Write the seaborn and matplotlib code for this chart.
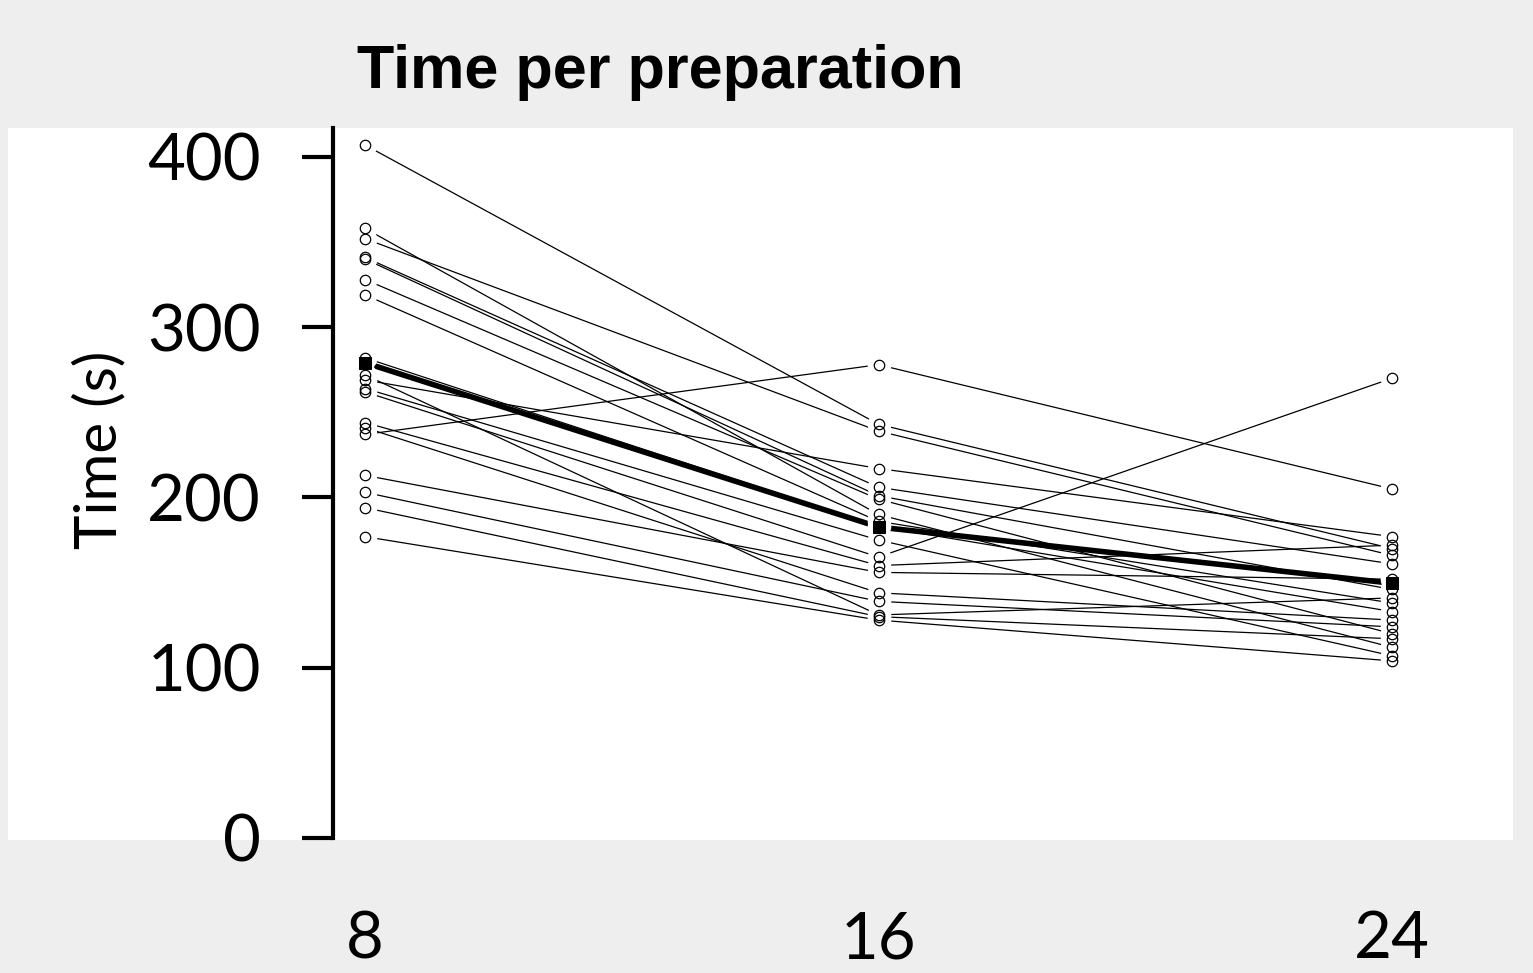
import pandas as pd
import matplotlib
matplotlib.use("Agg")
import matplotlib.pyplot as plt
import seaborn as sns
from matplotlib.patches import Rectangle

# session sizes (x axis) and time per preparation for each subject
sessions = [8, 16, 24]
time_8 = [407, 358, 352, 341, 340, 328, 319, 282, 272, 269, 264, 262,
          244, 241, 237, 213, 203, 194, 177]
time_16 = [243, 190, 239, 206, 201, 199, 186, 183, 131, 217, 175, 165,
           160, 144, 278, 156, 139, 130, 128]
time_24 = [170, 112, 166, 161, 146, 120, 138, 133, 141, 177, 107, 270,
           172, 128, 205, 152, 124, 117, 104]

title = "Time per preparation"
y_label = "Time (s)"
y_ticks = [0, 100, 200, 300, 400]

# long format table for seaborn
rows = []
for i in range(len(time_8)):
    for s, t in zip(sessions, [time_8[i], time_16[i], time_24[i]]):
        rows.append({"subject": i, "session": s, "time": t})
df = pd.DataFrame(rows)

sns.set_theme(style="white")
plt.rcParams['font.family'] = ['Lato', 'DejaVu Sans']

W, H = 1533, 973
fig = plt.figure(figsize=(W / 100, H / 100), dpi=100, facecolor='#EEEEEE')

# white panel behind the plot
fig.patches.append(Rectangle((8 / W, 1 - 840 / H), (1513 - 8) / W, (840 - 128) / H,
                             transform=fig.transFigure, facecolor='white',
                             edgecolor='none', zorder=-1))

ax = fig.add_axes([333 / W, 1 - 838 / H, (1424 - 333) / W, (838 - 128) / H])
ax.patch.set_alpha(0)

# individual subjects
sns.lineplot(data=df, x='session', y='time', units='subject', estimator=None,
             color='black', lw=0.9, ax=ax, legend=False, zorder=2)

# mean line
sns.lineplot(data=df, x='session', y='time', estimator='mean', errorbar=None,
             color='black', lw=4, ax=ax, legend=False, zorder=3)

# white halo so lines stop short of the points
sns.lineplot(data=df, x='session', y='time', units='subject', estimator=None,
             ls='', marker='o', ms=17, mfc='white', mec='none', ax=ax,
             legend=False, zorder=4)
sns.lineplot(data=df, x='session', y='time', estimator='mean', errorbar=None,
             ls='', marker='s', ms=9, color='black', mec='black', ax=ax,
             legend=False, zorder=5)
sns.lineplot(data=df, x='session', y='time', units='subject', estimator=None,
             ls='', marker='o', ms=7.5, mfc='none', mec='black', mew=0.9,
             ax=ax, legend=False, zorder=6)

ax.set_xlim(7.5, 24.5)
ax.set_ylim(0, 417)
ax.set_xticks(sessions)
ax.set_yticks(y_ticks)
ax.set_xlabel('')
ax.set_ylabel('')

for side in ['top', 'right', 'bottom']:
    ax.spines[side].set_visible(False)
ax.spines['left'].set_linewidth(3)
ax.spines['left'].set_color('black')
ax.spines['left'].set_capstyle('projecting')

ax.tick_params(axis='y', length=22, width=3, pad=30, labelsize=47,
               direction='out', left=True, colors='black')
ax.tick_params(axis='x', length=0, pad=52, labelsize=47, colors='black')

fig.text(100 / W, 1 - 450 / H, y_label, rotation=90, ha='center', va='center',
         fontsize=42, color='black')
fig.text(357 / W, 1 - 88 / H, title, ha='left', va='baseline', fontsize=44,
         fontweight='bold', family=['Liberation Sans', 'DejaVu Sans'],
         color='black')

plt.savefig('out.png', dpi=100, facecolor=fig.get_facecolor())
